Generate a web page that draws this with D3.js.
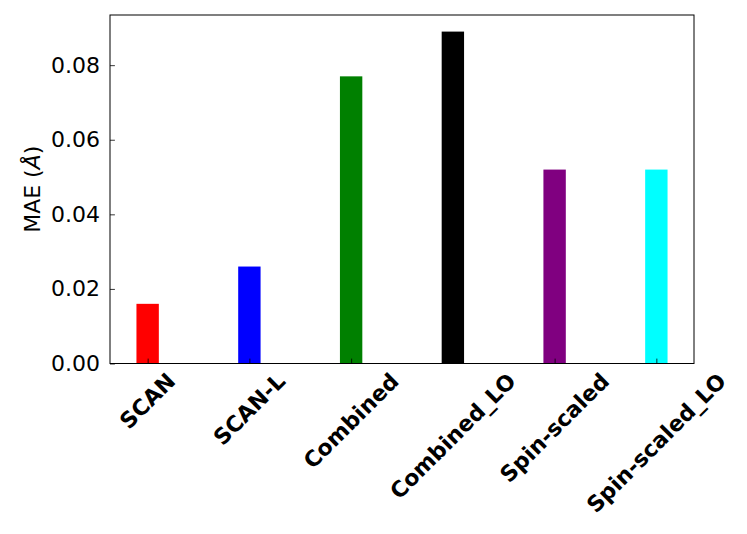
<!DOCTYPE html>
<html>
<head>
<meta charset="utf-8">
<script src="https://cdn.jsdelivr.net/npm/d3@7"></script>
<style>
  body { margin: 0; background: #fff; }
  svg { font-family: "DejaVu Sans", sans-serif; }
</style>
</head>
<body>
<div id="container"></div>
<script>
let methods = ["SCAN", "SCAN-L", "Combined", "Combined_LO", "Spin-scaled", "Spin-scaled_LO"];
let mae = [0.016, 0.026, 0.077, 0.089, 0.052, 0.052];
let colors = ["red", "blue", "green", "black", "purple", "cyan"];
let yTicks = [0.00, 0.02, 0.04, 0.06, 0.08];

let w = 747;
let h = 534;
let padLeft = 110, padRight = 694, padTop = 15, padBottom = 363.5;

let viz = d3.select("#container")
  .append("svg")
    .attr("width", w)
    .attr("height", h)
;

// matplotlib-like limits: bars 0.22 wide plus 5% margins
let barW = 0.22;
let xScale = d3.scaleLinear().domain([-0.37, 5.37]).range([padLeft, padRight]);
let yScale = d3.scaleLinear().domain([0, d3.max(mae) * 1.05]).range([padBottom, padTop]);

// bars
viz.append("g").selectAll("rect").data(mae).enter()
  .append("rect")
    .attr("x", (d, i) => xScale(i - barW / 2))
    .attr("width", (d, i) => xScale(i + barW / 2) - xScale(i - barW / 2))
    .attr("y", d => yScale(d))
    .attr("height", d => padBottom - yScale(d))
    .attr("fill", (d, i) => colors[i])
;

// y axis, ticks inward
let yAxis = d3.axisLeft(yScale).tickValues(yTicks).tickFormat(d3.format(".2f"))
  .tickSizeInner(-4.9).tickSizeOuter(0).tickPadding(10);
let yAxisGroup = viz.append("g")
    .attr("transform", "translate(" + padLeft + ",0)")
    .call(yAxis);
yAxisGroup.select(".domain").remove();
yAxisGroup.selectAll("line").attr("stroke", "#000").attr("stroke-width", 0.8);
yAxisGroup.selectAll("text")
  .attr("font-size", 22).attr("fill", "#000")
  .attr("font-family", "DejaVu Sans");

// x axis ticks inward
let xAxis = d3.axisBottom(xScale).tickValues(d3.range(methods.length))
  .tickFormat("").tickSizeInner(-4.9).tickSizeOuter(0);
let xAxisGroup = viz.append("g")
    .attr("transform", "translate(0," + padBottom + ")")
    .call(xAxis);
xAxisGroup.select(".domain").remove();
xAxisGroup.selectAll("line").attr("stroke", "#000").attr("stroke-width", 0.8);

// rotated x labels, centred on tick like matplotlib rotation=45
let labelGroup = viz.append("g");
methods.forEach(function(m, i){
  let t = labelGroup.append("text")
    .text(m)
    .attr("font-size", 22)
    .attr("font-weight", "bold")
    .attr("text-anchor", "middle")
    .attr("dominant-baseline", "central");
  let bb = t.node().getBBox();
  let half = (bb.width + bb.height) * Math.SQRT1_2 / 2;
  let cx = xScale(i), cy = padBottom + 4.9 + half;
  t.attr("transform", "translate(" + cx + "," + cy + ") rotate(-45)");
});

// frame
viz.append("rect")
  .attr("x", padLeft).attr("y", padTop)
  .attr("width", padRight - padLeft).attr("height", padBottom - padTop)
  .attr("fill", "none").attr("stroke", "#000").attr("stroke-width", 1);

// y label
let yl = viz.append("text")
  .attr("transform", "translate(40," + ((padTop + padBottom) / 2) + ") rotate(-90)")
  .attr("text-anchor", "middle")
  .attr("font-size", 22);
yl.append("tspan").text("MAE (");
yl.append("tspan").attr("font-style", "italic").text("Å");
yl.append("tspan").text(")");
</script>
</body>
</html>
